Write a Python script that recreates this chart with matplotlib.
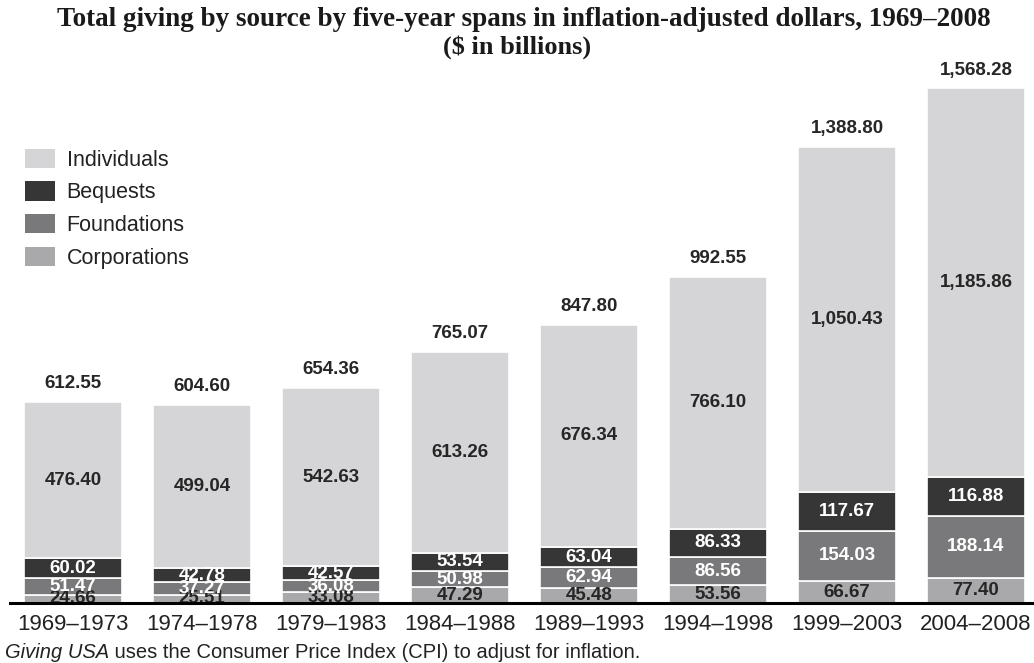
import matplotlib
matplotlib.use('Agg')
import matplotlib.pyplot as plt
from matplotlib.patches import Patch
import numpy as np

periods = ['1969–1973', '1974–1978', '1979–1983', '1984–1988',
           '1989–1993', '1994–1998', '1999–2003', '2004–2008']
corporations = [24.66, 25.51, 33.08, 47.29, 45.48, 53.56, 66.67, 77.40]
foundations = [51.47, 37.27, 36.08, 50.98, 62.94, 86.56, 154.03, 188.14]
bequests = [60.02, 42.78, 42.57, 53.54, 63.04, 86.33, 117.67, 116.88]
individuals = [476.40, 499.04, 542.63, 613.26, 676.34, 766.10, 1050.43, 1185.86]
totals = [612.55, 604.60, 654.36, 765.07, 847.80, 992.55, 1388.80, 1568.28]

sans = 'Liberation Sans'
serif = 'Liberation Serif'

W, H = 1034, 663
fig = plt.figure(figsize=(W / 100, H / 100), dpi=100)
# axes in pixel units: baseline at y=603 px from top, 1 unit = 129 px horizontally
ax = fig.add_axes([10 / W, 60 / H, 1024 / W, 558 / H])

x = np.arange(len(periods))
width = 0.76
series = [
    ('Corporations', corporations, '#a9a9ab', '#262626'),
    ('Foundations', foundations, '#79797b', 'white'),
    ('Bequests', bequests, '#363636', 'white'),
    ('Individuals', individuals, '#d5d5d7', '#262626'),
]

bottom = np.zeros(len(periods))
handles = {}
for name, vals, col, tcol in series:
    bars = ax.bar(x, vals, width, bottom=bottom, color=col,
                  edgecolor='white', linewidth=1.2, zorder=2)
    labels = ['{:,.2f}'.format(v) for v in vals]
    txts = ax.bar_label(bars, labels=labels, label_type='center',
                        color=tcol, fontsize=13.5, family=sans, weight='bold')
    for t in txts:
        t.set_clip_on(True)
    handles[name] = col
    bottom += np.array(vals)

# totals above the bars
ax.bar_label(bars, labels=['{:,.2f}'.format(v) for v in totals],
             padding=7, fontsize=13.5, family=sans, weight='bold', color='#262626')

ax.set_xlim(-63 / 129, 961 / 129)
ax.set_ylim(0, 1700)
ax.set_yticks([])
for s in ['top', 'left', 'right']:
    ax.spines[s].set_visible(False)
ax.spines['bottom'].set_linewidth(2.2)
ax.spines['bottom'].set_zorder(5)
ax.set_xticks(x)
ax.set_xticklabels(periods, fontsize=16, family=sans, color='#222222')
ax.tick_params(axis='x', length=0, pad=8)

leg_items = [Patch(facecolor=handles[n], edgecolor='none')
             for n in ['Individuals', 'Bequests', 'Foundations', 'Corporations']]
ax.legend(leg_items, ['Individuals', 'Bequests', 'Foundations', 'Corporations'],
          loc='upper left', bbox_to_anchor=(6 / 1024, (603 - 140) / 558),
          frameon=False, prop={'family': sans, 'size': 15.5},
          handlelength=1.4, handleheight=1.0, labelspacing=0.5,
          handletextpad=0.55, borderaxespad=0)
for t in ax.get_legend().get_texts():
    t.set_color('#222222')

fig.text(0.507, 1 - 19 / H, 'Total giving by source by five-year spans in inflation-adjusted dollars, 1969–2008',
         ha='center', va='center', family=serif, fontsize=19.5, weight='bold', color='#1a1a1a')
fig.text(0.5, 1 - 47 / H, '($ in billions)', ha='center', va='center',
         family=serif, fontsize=19, weight='bold', color='#1a1a1a')

t1 = fig.text(5 / W, 1 - 662 / H, 'Giving USA', family=sans, style='italic',
              fontsize=14.5, va='bottom', color='#222222')
ax.annotate(' uses the Consumer Price Index (CPI) to adjust for inflation.',
            xy=(1, 0), xycoords=t1, va='bottom', ha='left',
            family=sans, fontsize=14.5, color='#222222', annotation_clip=False)

fig.savefig('out.png', dpi=100, facecolor='white')
